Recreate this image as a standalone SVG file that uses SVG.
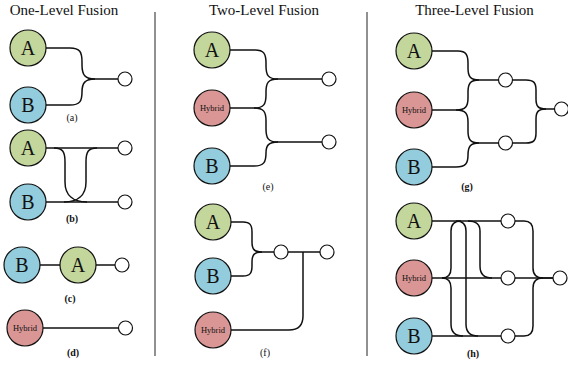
<svg xmlns="http://www.w3.org/2000/svg" width="568" height="366" viewBox="0 0 568 366">
<style>
text{font-family:"Liberation Serif","Times New Roman",serif;fill:#111}
.title{font-size:15px;text-anchor:middle}
.lbl{font-size:10px;text-anchor:middle}
.b{font-weight:bold}
.big{font-size:20px;text-anchor:middle}
.hy{font-size:8.5px;text-anchor:middle}
.A{fill:#c3d69b;stroke:#111;stroke-width:1.2}
.B{fill:#93cddd;stroke:#111;stroke-width:1.2}
.H{fill:#d99694;stroke:#111;stroke-width:1.2}
.o{fill:#fff;stroke:#111;stroke-width:1.2}
.c path,.c line{fill:none;stroke:#111;stroke-width:1.5}
.div{stroke:#222;stroke-width:1}
</style>
<rect width="568" height="366" fill="#fff"/>
<text class="title" x="64" y="15">One-Level Fusion</text>
<text class="title" x="264" y="15">Two-Level Fusion</text>
<text class="title" x="474.5" y="15">Three-Level Fusion</text>
<line class="div" x1="155" y1="12" x2="155" y2="356"/>
<line class="div" x1="367" y1="12" x2="367" y2="356"/>

<g class="c" id="connectors">
<!-- a -->
<path d="M46,48 H70 C80,48 82,52 82,62 V65 C82,75 85,79 95,79 H118"/>
<path d="M46,105 H70 C80,105 82,101 82,92 C82,83 85,79 95,79"/>
<!-- b -->
<path d="M46,148 H118"/>
<path d="M46,202 H118"/>
<path d="M54,148 C63,148 65,152 65,162 V182 C65,196 74,202 87,202"/>
<path d="M97,148 C88,148 86,152 86,162 V182 C86,196 77,202 64,202"/>
<!-- c -->
<path d="M40,265 H60"/>
<path d="M96,265 H115"/>
<!-- d -->
<path d="M43,328 H118.5"/>
<!-- e -->
<path d="M230,50 H255 C264,50 266,54 266,63 V66 C266,75 268,79 278,79 H322"/>
<path d="M230,108 H254 C264,108 266,104 266,95 V92 C266,83 268,79 278,79"/>
<path d="M254,108 C264,108 266,112 266,121 V129 C266,138 268,142 278,142 H322"/>
<path d="M230,166 H254 C264,166 266,162 266,153 C266,146 268,142 278,142"/>
<!-- f -->
<path d="M231,222 H243 C250,222 252,225 252,232 V242 C252,249 254,252 262,252 H274"/>
<path d="M231,276 H243 C250,276 252,273 252,266 V262 C252,255 254,252 262,252"/>
<path d="M288,252 H320"/>
<path d="M303,252 V316 Q303,330 289,330 H231"/>
<!-- g -->
<path d="M432,51 H458 C466,51 468,55 468,63 V68 C468,76 470,80 479,80 H498.5"/>
<path d="M432,110 H456 C466,110 468,106 468,98 V92 C468,84 470,80 479,80"/>
<path d="M456,110 C466,110 468,114 468,122 V131 C468,139 470,143 479,143 H498.5"/>
<path d="M432,167 H456 C466,167 468,163 468,155 C468,147 470,143 479,143"/>
<path d="M512.5,80 H526 C534,80 536,83 536,90 V99 C536,106 538,109 546,109 H554.5"/>
<path d="M512.5,143 H526 C534,143 536,140 536,133 V119 C536,112 538,109 546,109"/>
<!-- h -->
<path d="M432,221 H501"/>
<path d="M432,278 H501"/>
<path d="M432,336 H501"/>
<path d="M442,278 Q451,278 451,268 V231 Q451,221 461,221"/>
<path d="M442,278 Q451,278 451,288 V324 Q451,336 463,336"/>
<path d="M456,221 Q466,221 466,231 V324 Q466,336 478,336"/>
<path d="M468,221 Q480,221 480,231 V266 Q480,278 492,278"/>
<path d="M515,221 H524 Q533,221 533,231 V268 Q533,278 543,278 H553"/>
<path d="M515,278 H553"/>
<path d="M515,336 H524 Q533,336 533,326 V288 Q533,278 543,278"/>
</g>

<!-- panel a -->
<g id="a-A"><circle class="A" cx="28" cy="48" r="18"/><text class="big" x="28" y="55">A</text></g>
<g id="a-B"><circle class="B" cx="28" cy="105" r="18"/><text class="big" x="28" y="112">B</text></g>
<g id="a-out"><circle class="o" cx="125" cy="79" r="7"/></g>
<text class="lbl" x="72" y="121">(a)</text>
<!-- panel b -->
<g id="b-A"><circle class="A" cx="28" cy="148" r="18"/><text class="big" x="28" y="155">A</text></g>
<g id="b-B"><circle class="B" cx="28" cy="202" r="18"/><text class="big" x="28" y="209">B</text></g>
<g id="b-out1"><circle class="o" cx="125" cy="148" r="7"/></g>
<g id="b-out2"><circle class="o" cx="125" cy="202" r="7"/></g>
<text class="lbl b" x="72" y="221.5">(b)</text>
<!-- panel c -->
<g id="c-B"><circle class="B" cx="22" cy="265" r="18"/><text class="big" x="22" y="272">B</text></g>
<g id="c-A"><circle class="A" cx="78" cy="265" r="18"/><text class="big" x="78" y="272">A</text></g>
<g id="c-out"><circle class="o" cx="122" cy="265" r="7"/></g>
<text class="lbl b" x="70" y="302">(c)</text>
<!-- panel d -->
<g id="d-H"><circle class="H" cx="25" cy="328" r="18"/><text class="hy" x="25" y="331">Hybrid</text></g>
<g id="d-out"><circle class="o" cx="125.5" cy="328" r="7"/></g>
<text class="lbl b" x="73" y="356">(d)</text>

<!-- panel e -->
<g id="e-A"><circle class="A" cx="212" cy="50" r="18"/><text class="big" x="212" y="57">A</text></g>
<g id="e-H"><circle class="H" cx="212" cy="108" r="18"/><text class="hy" x="212" y="111">Hybrid</text></g>
<g id="e-B"><circle class="B" cx="212" cy="166" r="18"/><text class="big" x="212" y="173">B</text></g>
<g id="e-out1"><circle class="o" cx="329" cy="79" r="7"/></g>
<g id="e-out2"><circle class="o" cx="329" cy="142" r="7"/></g>
<text class="lbl" x="268" y="190">(e)</text>
<!-- panel f -->
<g id="f-A"><circle class="A" cx="213" cy="222" r="18"/><text class="big" x="213" y="229">A</text></g>
<g id="f-B"><circle class="B" cx="213" cy="276" r="18"/><text class="big" x="213" y="283">B</text></g>
<g id="f-H"><circle class="H" cx="213" cy="330" r="18"/><text class="hy" x="213" y="333">Hybrid</text></g>
<g id="f-mid"><circle class="o" cx="281" cy="252" r="7"/></g>
<g id="f-out"><circle class="o" cx="327" cy="252" r="7"/></g>
<text class="lbl" x="265" y="356">(f)</text>

<!-- panel g -->
<g id="g-A"><circle class="A" cx="414" cy="51" r="18"/><text class="big" x="414" y="58">A</text></g>
<g id="g-H"><circle class="H" cx="414" cy="110" r="18"/><text class="hy" x="414" y="113">Hybrid</text></g>
<g id="g-B"><circle class="B" cx="414" cy="167" r="18"/><text class="big" x="414" y="174">B</text></g>
<g id="g-mid1"><circle class="o" cx="505.5" cy="80" r="7"/></g>
<g id="g-mid2"><circle class="o" cx="505.5" cy="143" r="7"/></g>
<g id="g-out"><circle class="o" cx="561.5" cy="109" r="7"/></g>
<text class="lbl b" x="467" y="190">(g)</text>
<!-- panel h -->
<g id="h-A"><circle class="A" cx="414" cy="221" r="18"/><text class="big" x="414" y="228">A</text></g>
<g id="h-H"><circle class="H" cx="414" cy="278" r="18"/><text class="hy" x="414" y="281">Hybrid</text></g>
<g id="h-B"><circle class="B" cx="414" cy="336" r="18"/><text class="big" x="414" y="343">B</text></g>
<g id="h-mid1"><circle class="o" cx="508" cy="221" r="7"/></g>
<g id="h-mid2"><circle class="o" cx="508" cy="278" r="7"/></g>
<g id="h-mid3"><circle class="o" cx="508" cy="336" r="7"/></g>
<g id="h-out"><circle class="o" cx="560" cy="278" r="7"/></g>
<text class="lbl b" x="473" y="357">(h)</text>
</svg>
